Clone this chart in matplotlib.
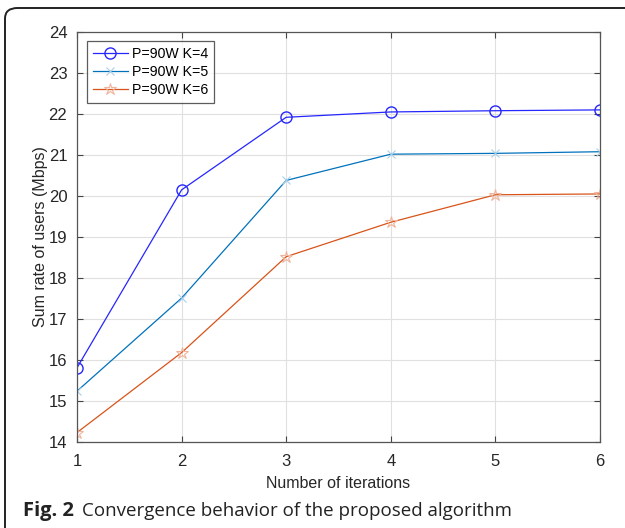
import matplotlib
matplotlib.use("Agg")
import matplotlib.pyplot as plt
from matplotlib.patches import FancyBboxPatch

# data
iterations = [1, 2, 3, 4, 5, 6]
rate_k4 = [15.81, 20.15, 21.92, 22.05, 22.08, 22.10]
rate_k5 = [15.24, 17.51, 20.38, 21.02, 21.04, 21.08]
rate_k6 = [14.23, 16.18, 18.52, 19.36, 20.03, 20.05]
labels = ["P=90W K=4", "P=90W K=5", "P=90W K=6"]

plt.rcParams['font.family'] = ['Liberation Sans', 'DejaVu Sans']

fig = plt.figure(figsize=(6.25, 5.28), dpi=100)
W, H = 625, 528

# outer frame, rounded corner, runs off the right and bottom edges
frame = FancyBboxPatch((5 / W, -0.05), 1.2, 1 - 8 / H + 0.05,
                       boxstyle="round,pad=0,rounding_size=0.02",
                       transform=fig.transFigure, fill=False,
                       edgecolor="#222222", linewidth=1.4, clip_on=False)
fig.patches.append(frame)

ax = fig.add_axes([77 / W, 1 - 442 / H, (600 - 77) / W, (442 - 32) / H])

ax.plot(iterations, rate_k4, color="#2626ff", linewidth=0.9, marker="o",
        markersize=8, markerfacecolor="none", markeredgecolor="#2626ff",
        markeredgewidth=1.0, label=labels[0])
ax.plot(iterations, rate_k5, color="#0072BD", linewidth=0.9, marker="x",
        markersize=6, markeredgecolor="#a8d0ea", markeredgewidth=0.8,
        label=labels[1])
ax.plot(iterations, rate_k6, color="#D95319", linewidth=0.9, marker="*",
        markersize=9, markerfacecolor="none", markeredgecolor="#f0b49c",
        markeredgewidth=0.8, label=labels[2])

ax.set_xlim(1, 6)
ax.set_ylim(14, 24)
ax.set_xticks(iterations)
ax.set_yticks(range(14, 25))
ax.grid(True, color="#e0e0e0", linewidth=0.8)
ax.set_axisbelow(True)
ax.tick_params(direction="in", top=True, right=True, length=4, width=0.8,
               color="#444444", labelsize=12, labelcolor="#262626")
ax.tick_params(axis="x", pad=9)
ax.tick_params(axis="y", pad=7)
for s in ax.spines.values():
    s.set_color("#555555")
    s.set_linewidth(0.9)

ax.set_xlabel("Number of iterations", fontsize=11.5, color="#262626", labelpad=5)
ax.set_ylabel("Sum rate of users (Mbps)", fontsize=11.5, color="#262626", labelpad=0.5)

leg = ax.legend(loc="upper left", fontsize=10.2, frameon=True, fancybox=False,
                borderpad=0.4, labelspacing=0.3, handlelength=2.5,
                handletextpad=0.3, bbox_to_anchor=(0.019, 0.978), borderaxespad=0)
leg.get_frame().set_edgecolor("#333333")
leg.get_frame().set_linewidth(0.9)

# caption
fig.text(23 / W, 1 - 511 / H, "Fig. 2", fontsize=14.5, fontweight="bold",
         family=["Open Sans", "DejaVu Sans"], color="#222222", va="center")
fig.text(82 / W, 1 - 511 / H, "Convergence behavior of the proposed algorithm",
         fontsize=13.5, family=["Open Sans", "DejaVu Sans"], color="#222222",
         va="center")

fig.savefig("out.png", dpi=100)
